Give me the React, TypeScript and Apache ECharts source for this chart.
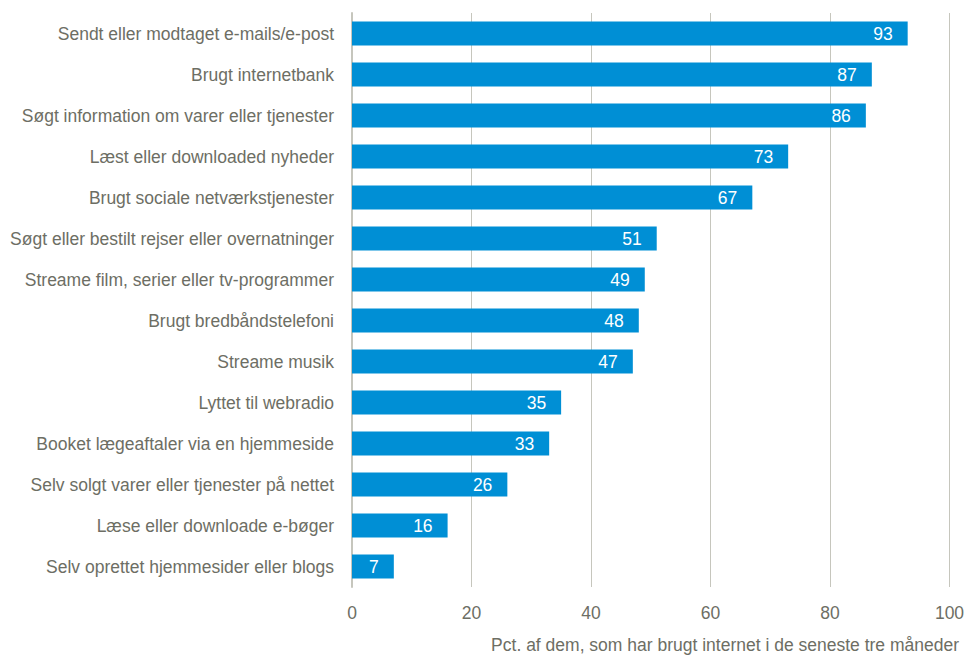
import React, { useEffect, useRef } from "react";
import * as echarts from "echarts";

const categories: string[] = [
  "Sendt eller modtaget e-mails/e-post",
  "Brugt internetbank",
  "Søgt information om varer eller tjenester",
  "Læst eller downloaded nyheder",
  "Brugt sociale netværkstjenester",
  "Søgt eller bestilt rejser eller overnatninger",
  "Streame film, serier eller tv-programmer",
  "Brugt bredbåndstelefoni",
  "Streame musik",
  "Lyttet til webradio",
  "Booket lægeaftaler via en hjemmeside",
  "Selv solgt varer eller tjenester på nettet",
  "Læse eller downloade e-bøger",
  "Selv oprettet hjemmesider eller blogs",
];

const values: number[] = [93, 87, 86, 73, 67, 51, 49, 48, 47, 35, 33, 26, 16, 7];

const xTicks = { min: 0, max: 100, interval: 20 };

const axisTitle = "Pct. af dem, som har brugt internet i de seneste tre måneder";

const FONT = '"Liberation Sans", Arial, sans-serif';
const FS = 17.5;
const TEXT = "#6d6e64";
const GRID = "#c6c6bd";
const BAR = "#008fd5";

export default function App() {
  const ref = useRef<HTMLDivElement>(null);
  useEffect(() => {
    if (!ref.current) return;
    const chart = echarts.init(ref.current, undefined, { renderer: "svg" });
    chart.setOption({
      animation: false,
      backgroundColor: "#ffffff",
      textStyle: { fontFamily: FONT },
      grid: {
        left: 352,
        right: 16.5,
        top: 13,
        bottom: 69,
        containLabel: false,
        outerBoundsMode: "none",
      },
      xAxis: {
        type: "value",
        min: xTicks.min,
        max: xTicks.max,
        interval: xTicks.interval,
        axisLine: { show: false },
        axisTick: { show: false },
        splitLine: { show: true, lineStyle: { color: GRID, width: 1 } },
        axisLabel: { color: TEXT, fontSize: FS, fontFamily: FONT, margin: 17 },
      },
      yAxis: {
        type: "category",
        inverse: true,
        data: categories,
        axisLine: { show: true, lineStyle: { color: GRID, width: 2 } },
        axisTick: { show: false },
        axisLabel: { color: TEXT, fontSize: FS, fontFamily: FONT, margin: 18 },
      },
      series: [
        {
          type: "bar",
          data: values,
          barWidth: 24,
          itemStyle: { color: BAR },
          label: {
            show: true,
            position: "insideRight",
            distance: 15,
            color: "#ffffff",
            fontSize: FS,
            fontFamily: FONT,
          },
        },
      ],
      graphic: [
        {
          type: "text",
          right: 7,
          top: 636,
          style: {
            text: axisTitle,
            fill: TEXT,
            fontSize: FS,
            fontFamily: FONT,
          },
        },
      ],
    });
    return () => chart.dispose();
  }, []);
  return (
    <div
      ref={ref}
      style={{ position: "fixed", left: 0, top: 0, width: 966, height: 656 }}
    />
  );
}
